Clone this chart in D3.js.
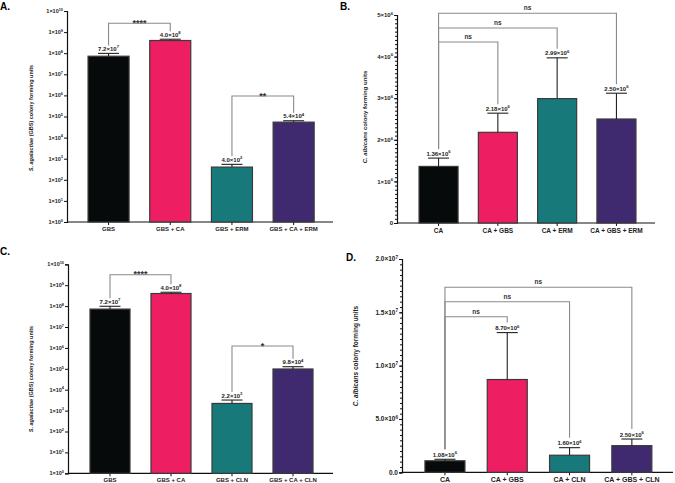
<!DOCTYPE html>
<html>
<head>
<meta charset="utf-8">
<script src="https://cdn.jsdelivr.net/npm/d3@7"></script>
<style>
  body { margin: 0; background: #fff; }
  svg { font-family: "Liberation Sans", Arial, sans-serif; }
</style>
</head>
<body>
<svg id="chart" width="675" height="483"></svg>
<script>
// ---- data ----
const catsA = ["GBS", "GBS + CA", "GBS + ERM", "GBS + CA + ERM"];
const meanA = [7.2e7, 4.0e8, 4.0e2, 5.4e4];
const sdA = [2.6e7, 0.6e8, 1.4e2, 0.9e4];
const sigA = [[0, 1, "****"], [2, 3, "**"]];

const catsB = ["CA", "CA + GBS", "CA + ERM", "CA + GBS + ERM"];
const meanB = [1.36e6, 2.18e6, 2.99e6, 2.50e6];
const sdB = [0.2e6, 0.46e6, 0.98e6, 0.62e6];
const sigB = [[0, 1, "ns"], [0, 2, "ns"], [0, 3, "ns"]];

const catsC = ["GBS", "GBS + CA", "GBS + CLN", "GBS + CA + CLN"];
const meanC = [7.2e7, 4.0e8, 2.2e3, 9.8e4];
const sdC = [2.6e7, 0.6e8, 1.0e3, 2.8e4];
const sigC = [[0, 1, "****"], [2, 3, "*"]];

const catsD = ["CA", "CA + GBS", "CA + CLN", "CA + GBS + CLN"];
const meanD = [1.08e6, 8.70e6, 1.60e6, 2.50e6];
const sdD = [0.14e6, 4.4e6, 0.71e6, 0.62e6];
const sigD = [[0, 1, "ns"], [0, 2, "ns"], [0, 3, "ns"]];

const logTicks = d3.range(0, 11).map(p => Math.pow(10, p));
const ticksB = [0, 1e6, 2e6, 3e6, 4e6, 5e6];
const ticksD = [0, 5e6, 1e7, 1.5e7, 2e7];

const colors = ["#060a0a", "#ee1e63", "#17797a", "#3f2a70"];

class BarPanel {
  constructor(_config, _cats, _mean, _sd, _sig) {
    this.config = _config;
    this.cats = _cats;
    this.mean = _mean;
    this.sd = _sd;
    this.sig = _sig;
    this.initVis();
  }

  initVis() {
    let vis = this;
    let c = vis.config;
    vis.g = d3.select("#chart").append("g");

    vis.x = d3.scaleBand()
      .domain(vis.cats)
      .range(c.band)
      .paddingInner(c.pad)
      .paddingOuter(c.pad / 2);

    if (c.log) {
      vis.y = d3.scaleLog().domain([1, 1e10]).range([c.bottom, c.top]);
    } else {
      vis.y = d3.scaleLinear().domain([0, c.max]).range([c.bottom, c.top]);
    }

    // panel letter
    vis.g.append("text")
      .attr("x", c.letter[0]).attr("y", c.letter[1])
      .attr("font-size", 10).attr("font-weight", "bold")
      .text(c.name);

    // y axis
    let yAxis = d3.axisLeft(vis.y)
      .tickValues(c.ticks)
      .tickSize(3)
      .tickFormat("");
    let ya = vis.g.append("g")
      .attr("transform", `translate(${c.left},0)`)
      .call(yAxis);
    ya.select(".domain").attr("stroke", "#111").attr("stroke-width", 1.2);
    ya.selectAll(".tick line").attr("stroke", "#111");

    if (c.minor) {
      let minorAxis = d3.axisLeft(vis.y)
        .tickValues(d3.range(0, c.max + c.minor / 2, c.minor))
        .tickSize(2)
        .tickFormat("");
      let ma = vis.g.append("g")
        .attr("transform", `translate(${c.left},0)`)
        .call(minorAxis);
      ma.select(".domain").remove();
      ma.selectAll(".tick line").attr("stroke", "#111");
    }

    // tick labels with superscripts
    c.ticks.forEach((t, i) => {
      let lab = c.tickLabel(t, i);
      let txt = vis.g.append("text")
        .attr("x", c.left - 4)
        .attr("y", vis.y(t) + c.tickFont * 0.35)
        .attr("text-anchor", "end")
        .attr("font-size", c.tickFont)
        .attr("font-weight", "bold")
        .attr("fill", "#222");
      txt.append("tspan").text(lab[0]);
      if (lab[1] !== null) {
        txt.append("tspan")
          .attr("dy", -c.tickFont * 0.4)
          .attr("font-size", c.tickFont * 0.7)
          .text(lab[1]);
      }
    });

    // y axis title
    let yt = vis.g.append("text")
      .attr("transform", `translate(${c.titleX},${c.titleY}) rotate(-90)`)
      .attr("text-anchor", "middle")
      .attr("font-size", c.titleFont)
      .attr("font-weight", "bold")
      .attr("fill", "#222");
    yt.append("tspan").attr("font-style", "italic").text(c.species);
    yt.append("tspan").text(c.titleRest);

    // x axis line
    vis.g.append("line")
      .attr("x1", c.left).attr("x2", c.right)
      .attr("y1", c.bottom).attr("y2", c.bottom)
      .attr("stroke", "#111").attr("stroke-width", 1.2);

    vis.g.selectAll(".xtick")
      .data(vis.cats)
      .enter().append("line")
      .attr("x1", d => vis.x(d) + vis.x.bandwidth() / 2)
      .attr("x2", d => vis.x(d) + vis.x.bandwidth() / 2)
      .attr("y1", c.bottom).attr("y2", c.bottom + 3)
      .attr("stroke", "#111");

    vis.g.selectAll(".xlab")
      .data(vis.cats)
      .enter().append("text")
      .attr("x", d => vis.x(d) + vis.x.bandwidth() / 2)
      .attr("y", c.bottom + c.catDy)
      .attr("text-anchor", "middle")
      .attr("font-size", c.catFont)
      .attr("font-weight", "bold")
      .attr("fill", "#222")
      .text(d => d);

    vis.updateVis();
  }

  updateVis() {
    let vis = this;
    let c = vis.config;
    let base = c.log ? 1 : 0;
    let bw = vis.x.bandwidth();
    let cx = i => vis.x(vis.cats[i]) + bw / 2;
    let errTop = i => vis.y(vis.mean[i] + vis.sd[i]);

    // bars
    vis.g.selectAll(".bar")
      .data(vis.mean)
      .enter().append("rect")
      .attr("x", (d, i) => vis.x(vis.cats[i]))
      .attr("y", d => vis.y(d))
      .attr("width", bw)
      .attr("height", d => vis.y(base) - vis.y(d))
      .attr("fill", (d, i) => colors[i])
      .attr("stroke", "#3a3a3a")
      .attr("stroke-width", 1.2);

    // error bars (upper)
    vis.mean.forEach((m, i) => {
      vis.g.append("line")
        .attr("x1", cx(i)).attr("x2", cx(i))
        .attr("y1", vis.y(m)).attr("y2", errTop(i))
        .attr("stroke", "#222").attr("stroke-width", 1.1);
      vis.g.append("line")
        .attr("x1", cx(i) - 10.5).attr("x2", cx(i) + 10.5)
        .attr("y1", errTop(i)).attr("y2", errTop(i))
        .attr("stroke", "#222").attr("stroke-width", 1.1);

      let parts = m.toExponential(c.digits).split("e");
      let lab = vis.g.append("text")
        .attr("x", cx(i)).attr("y", errTop(i) - 2.5)
        .attr("text-anchor", "middle")
        .attr("font-size", c.valFont)
        .attr("font-weight", "bold")
        .attr("fill", "#222");
      lab.append("tspan").text(parts[0] + "\u00d710");
      lab.append("tspan")
        .attr("dy", -c.valFont * 0.4)
        .attr("font-size", c.valFont * 0.7)
        .text(+parts[1]);
    });

    // significance brackets
    vis.sig.forEach((s, k) => {
      let yb = c.sigY[k];
      let x1 = cx(s[0]), x2 = cx(s[1]);
      let path = d3.path();
      path.moveTo(x1, errTop(s[0]) - c.legGap);
      path.lineTo(x1, yb);
      path.lineTo(x2, yb);
      path.lineTo(x2, errTop(s[1]) - c.legGap);
      vis.g.append("path")
        .attr("d", path.toString())
        .attr("fill", "none")
        .attr("stroke", "#8a8a8a")
        .attr("stroke-width", 1.1);
      let star = s[2] !== "ns";
      vis.g.append("text")
        .attr("x", (x1 + x2) / 2)
        .attr("y", star ? yb + 2.5 : yb - 3)
        .attr("text-anchor", "middle")
        .attr("font-size", star ? 9 : 6.5)
        .attr("font-weight", "bold")
        .attr("fill", "#333")
        .text(s[2]);
    });
  }
}

const logLabel = (t) => ["1\u00d710", Math.round(Math.log10(t))];

new BarPanel({
  name: "A.", letter: [0, 10], log: true, ticks: logTicks, tickLabel: logLabel,
  left: 67, right: 333, top: 11, bottom: 222, band: [77.7, 324.5], pad: 0.335,
  tickFont: 5.5, titleX: 33, titleY: 118, titleFont: 5.5,
  species: "S. agalactiae", titleRest: " (GBS) colony forming units",
  catFont: 6, catDy: 9, valFont: 6, digits: 1, legGap: 8, sigY: [23.3, 96]
}, catsA, meanA, sdA, sigA);

new BarPanel({
  name: "B.", letter: [340, 10], log: false, max: 5e6, minor: 1e5, ticks: ticksB,
  tickLabel: (t) => t === 0 ? ["0", null] : [(t / 1e6) + "\u00d710", 6],
  left: 397, right: 655, top: 15, bottom: 223, band: [408.9, 646.1], pad: 0.342,
  tickFont: 6, titleX: 367, titleY: 117, titleFont: 6,
  species: "C. albicans", titleRest: " colony forming units",
  catFont: 6.5, catDy: 9.5, valFont: 6, digits: 2, legGap: 9, sigY: [42, 28, 13.3]
}, catsB, meanB, sdB, sigB);

new BarPanel({
  name: "C.", letter: [0, 255], log: true, ticks: logTicks, tickLabel: logLabel,
  left: 68, right: 333, top: 264.3, bottom: 473.3, band: [79.5, 323.5], pad: 0.344,
  tickFont: 5.5, titleX: 33, titleY: 379, titleFont: 5.5,
  species: "S. agalactiae", titleRest: " (GBS) colony forming units",
  catFont: 6, catDy: 9, valFont: 6, digits: 1, legGap: 8, sigY: [274.7, 346]
}, catsC, meanC, sdC, sigC);

new BarPanel({
  name: "D.", letter: [346, 261], log: false, max: 2e7, minor: 5e5, ticks: ticksD,
  tickLabel: (t) => {
    if (t === 0) return ["0.0", null];
    let p = t.toExponential(1).split("e");
    return [p[0] + "\u00d710", +p[1]];
  },
  left: 402, right: 673, top: 259, bottom: 472.3, band: [413.8, 663], pad: 0.358,
  tickFont: 6.5, titleX: 358, titleY: 356, titleFont: 6.5,
  species: "C. albicans", titleRest: " colony forming units",
  catFont: 7, catDy: 10, valFont: 6, digits: 2, legGap: 10, sigY: [316.7, 301.7, 287.3]
}, catsD, meanD, sdD, sigD);
</script>
</body>
</html>
